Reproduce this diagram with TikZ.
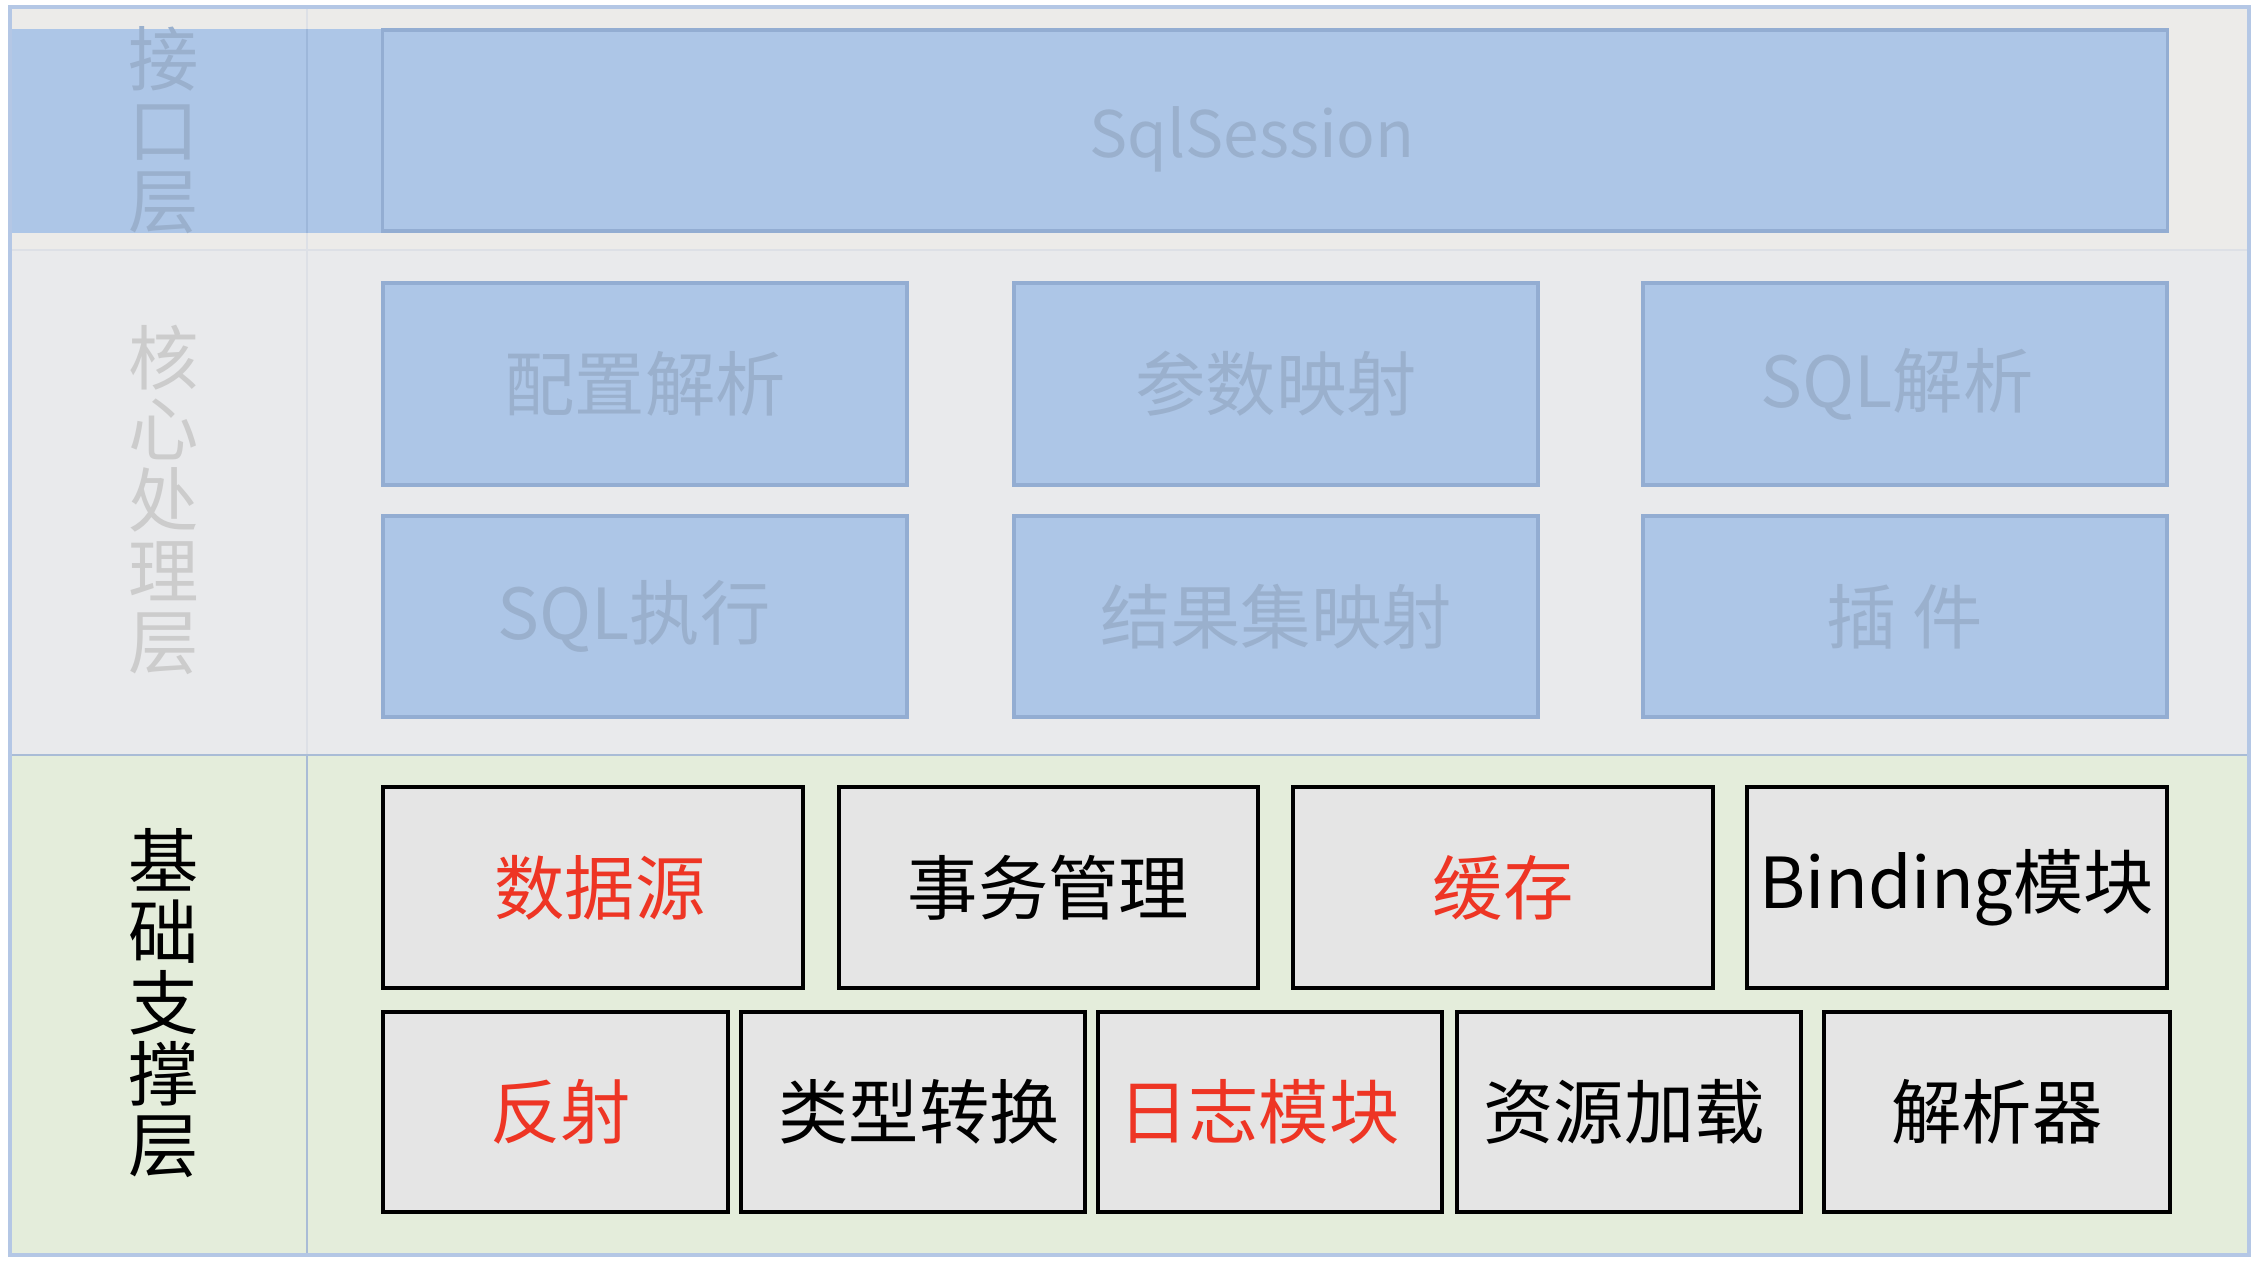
\documentclass[tikz,border=0pt]{standalone}
\usepackage{fontspec}
\setmainfont{Noto Sans CJK SC}
\definecolor{topbg}{HTML}{ECEBE9}
\definecolor{midbg}{HTML}{E9EAEC}
\definecolor{botbg}{HTML}{E4EDDB}
\definecolor{bluefill}{HTML}{ADC6E7}
\definecolor{blueline}{HTML}{93ADD2}
\definecolor{bluetext}{HTML}{9AB0CD}
\definecolor{graytext}{HTML}{CCCCCC}
\definecolor{frameline}{HTML}{B4C7E5}
\definecolor{sepline}{HTML}{A9BCD6}
\definecolor{faintline}{HTML}{DDE0E6}
\definecolor{boxfill}{HTML}{E5E5E5}
\definecolor{redtext}{HTML}{EE3524}
\newcommand\shiftx[2]{\makebox[0pt]{\kern#1\kern#1 #2}}
\begin{document}
\begin{tikzpicture}[x=0.01cm,y=-0.01cm,
  bluebox/.style={draw=blueline, fill=bluefill, line width=1pt, text=bluetext,
    inner sep=0pt, font=\fontsize{20pt}{22pt}\selectfont},
  graybox/.style={draw=black, fill=boxfill, line width=1pt, text=black,
    inner sep=0pt, font=\fontsize{20pt}{22pt}\selectfont},
  redlabel/.style={text=redtext},
  layerlabel/.style={align=center, inner sep=0pt, font=\fontsize{20pt}{20.2pt}\selectfont}]
\useasboundingbox (0,0) rectangle (2268,1266);
% bands
\fill[topbg] (10,7) rectangle (2249,250);
\fill[midbg] (10,250) rectangle (2249,755);
\fill[botbg] (10,755) rectangle (2249,1255);
\fill[bluefill] (10,29) rectangle (383,233);
% separators
\draw[faintline, line width=0.8pt] (307,7) -- (307,29);
\draw[blueline!60!bluefill, line width=0.8pt] (307,29) -- (307,233);
\draw[faintline, line width=0.8pt] (307,233) -- (307,755);
\draw[faintline, line width=0.8pt] (10,250) -- (2249,250);
\draw[sepline, line width=0.8pt] (307,755) -- (307,1255);
\draw[sepline, line width=0.8pt] (10,755) -- (2249,755);
\draw[frameline, line width=1pt] (10,7) rectangle (2249,1255);
% layer labels
\node[layerlabel, text=bluetext] (l1) at (164,130) {接\\口\\层};
\node[layerlabel, text=graytext] (l2) at (164,500) {核\\心\\处\\理\\层};
\node[layerlabel, text=black] (l3) at (164,1003) {基\\础\\支\\撑\\层};
% interface layer
\node[bluebox, minimum width=17.84cm, minimum height=2.01cm,
  font=\fontsize{18.2pt}{20pt}\selectfont] (sql) at (1275,130.5)
  {\raisebox{-0.265cm}[0pt][0pt]{\shiftx{-0.23cm}{SqlSession}}};
% core layer
\node[bluebox, minimum width=5.24cm, minimum height=2.02cm] (pz) at (645,384) {配置解析};
\node[bluebox, minimum width=5.24cm, minimum height=2.02cm] (cs) at (1276,384) {参数映射};
\node[bluebox, minimum width=5.24cm, minimum height=2.02cm] (sqlp) at (1905,384) {\shiftx{-0.08cm}{SQL解析}};
\node[bluebox, minimum width=5.24cm, minimum height=2.01cm] (sqle) at (645,616.5) {\shiftx{-0.11cm}{SQL执行}};
\node[bluebox, minimum width=5.24cm, minimum height=2.01cm] (jg) at (1276,616.5) {结果集映射};
\node[bluebox, minimum width=5.24cm, minimum height=2.01cm] (cj) at (1905,616.5) {插 件};
% base layer row 1
\node[graybox, redlabel, minimum width=4.20cm, minimum height=2.01cm] (ds) at (593,887.5) {\shiftx{0.07cm}{数据源}};
\node[graybox, minimum width=4.19cm, minimum height=2.01cm] (sw) at (1048.5,887.5) {事务管理};
\node[graybox, redlabel, minimum width=4.20cm, minimum height=2.01cm] (hc) at (1503,887.5) {缓存};
\node[graybox, minimum width=4.20cm, minimum height=2.01cm] (bd) at (1957,887.5) {Binding模块};
% base layer row 2
\node[graybox, redlabel, minimum width=3.45cm, minimum height=2.00cm] (fs) at (555.5,1112) {\shiftx{0.05cm}{反射}};
\node[graybox, minimum width=3.44cm, minimum height=2.00cm] (lx) at (913,1112) {\shiftx{0.06cm}{类型转换}};
\node[graybox, redlabel, minimum width=3.44cm, minimum height=2.00cm] (rz) at (1270,1112) {\shiftx{-0.11cm}{日志模块}};
\node[graybox, minimum width=3.44cm, minimum height=2.00cm] (zy) at (1629,1112) {\shiftx{-0.05cm}{资源加载}};
\node[graybox, minimum width=3.46cm, minimum height=2.00cm] (jx) at (1997,1112) {解析器};
\end{tikzpicture}
\end{document}
